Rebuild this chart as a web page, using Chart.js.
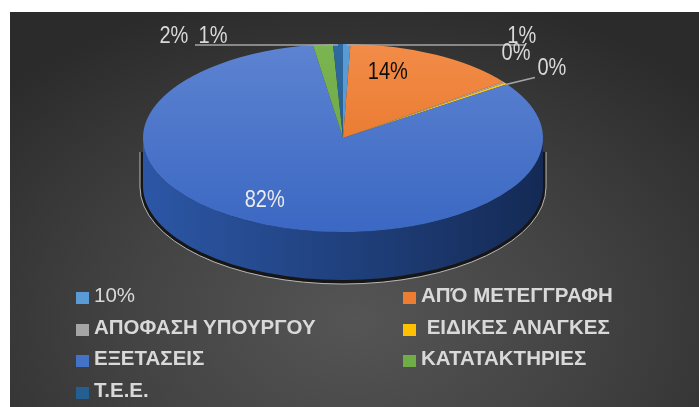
<!DOCTYPE html>
<html>
<head>
<meta charset="utf-8">
<script src="https://cdn.jsdelivr.net/npm/chart.js@4.4.0/dist/chart.umd.min.js"></script>
<style>
    html, body { margin: 0; padding: 0; background: #fff; }
    #wrap { position: relative; width: 699px; height: 407px; overflow: hidden; }
    #panel {
        position: absolute; left: 10px; top: 12px; width: 689px; height: 395px;
        background: radial-gradient(ellipse 70% 85% at 50% 78%, #555555 0%, #444444 45%, #2b2b2b 100%);
    }
    #chart { position: absolute; left: 0; top: 0; }
    #legend {
        position: absolute; left: 76px; top: 286px;
        display: grid; grid-template-columns: 327px auto; grid-auto-rows: 31.7px;
        font-family: "Liberation Sans", Arial, sans-serif; font-weight: bold; font-size: 20.5px;
        color: #d9d9d9; white-space: pre;
    }
    #legend .item { display: flex; align-items: flex-end; height: 21px; }
    #legend .box { width: 13px; height: 12px; margin-right: 5px; margin-bottom: 3px; flex: none; }
</style>
</head>
<body>
<div id="wrap">
    <div id="panel"></div>
    <canvas id="chart" width="699" height="407"></canvas>
    <div id="legend"></div>
</div>
<script>
const categories = ['10%', 'ΑΠΌ ΜΕΤΕΓΓΡΑΦΗ', 'ΑΠΟΦΑΣΗ ΥΠΟΥΡΓΟΥ', ' ΕΙΔΙΚΕΣ ΑΝΑΓΚΕΣ', 'ΕΞΕΤΑΣΕΙΣ', 'ΚΑΤΑΤΑΚΤΗΡΙΕΣ', 'Τ.Ε.Ε.'];
const values = [0.6, 14.2, 0.2, 0.3, 82.3, 1.6, 0.8];
const colors = ['#5B9BD5', '#ED7D31', '#A5A5A5', '#FFC000', '#4472C4', '#70AD47', '#255E91'];
const topLight = ['#6aa6dc', '#f28c48', '#b3b3b3', '#ffc92a', '#5d83d1', '#7ab552', '#2f6aa0'];
const topDark = ['#4f8fcc', '#e46d1e', '#989898', '#f5b700', '#3b68c3', '#65a03e', '#1f5385'];
const sideLeft = ['#3f7ab3', '#b85a1c', '#7f7f7f', '#c79500', '#2c57a6', '#568a36', '#1b4a75'];
const sideRight = ['#1e3c5a', '#5c2d0e', '#404040', '#634a00', '#142a55', '#2b451b', '#0e253b'];
const legendBold = [false, true, true, true, true, true, true];

// label placement: 'in' = inside slice, 'out' = on the rim, then offsets
const labelMode = ['out', 'in', 'out', 'out', 'in', 'out', 'out'];
const labelOffset = [[175, -7], [-11, -15], [12, -29], [46, -15], [-31, 11], [-149, -8], [-125, -7]];
const leaderEnd = [[3, 8], null, null, [-17, 9], null, null, [-18, 8]];
const labelColor = ['#d9d9d9', '#0d0d0d', '#d9d9d9', '#d9d9d9', '#ececec', '#d9d9d9', '#d9d9d9'];

const squash = 0.47;
const topY = 138;
const depth = 48;

function geom(chart) {
    const arc = chart.getDatasetMeta(0).data[0];
    return { cx: arc.x, cy0: arc.y, R: arc.outerRadius, ry: arc.outerRadius * squash };
}

const pie3d = {
    id: 'pie3d',
    beforeDatasetsDraw(chart) {
        const ctx = chart.ctx;
        const g = geom(chart);
        ctx.save();

        // shadow rim under the pie
        ctx.beginPath();
        ctx.moveTo(g.cx - g.R - 3, topY + 14);
        ctx.lineTo(g.cx - g.R - 3, topY + depth);
        ctx.ellipse(g.cx, topY + depth + 1, g.R + 3, g.ry + 3, 0, Math.PI, 0, true);
        ctx.lineTo(g.cx + g.R + 3, topY + 14);
        ctx.fillStyle = '#161616';
        ctx.fill();
        ctx.strokeStyle = 'rgba(220,220,220,0.8)';
        ctx.lineWidth = 1;
        ctx.stroke();

        // side walls, only the front half is visible
        chart.getDatasetMeta(0).data.forEach((el, i) => {
            const s = Math.max(el.startAngle, 0);
            const e = Math.min(el.endAngle, Math.PI);
            if (s >= e) return;
            const grad = ctx.createLinearGradient(g.cx - g.R, 0, g.cx + g.R, 0);
            grad.addColorStop(0, sideLeft[i]);
            grad.addColorStop(1, sideRight[i]);
            ctx.beginPath();
            ctx.ellipse(g.cx, topY, g.R, g.ry, 0, s, e);
            ctx.lineTo(g.cx + g.R * Math.cos(e), topY + g.ry * Math.sin(e) + depth);
            ctx.ellipse(g.cx, topY + depth, g.R, g.ry, 0, e, s, true);
            ctx.closePath();
            ctx.fillStyle = grad;
            ctx.fill();
        });

        // squash the top face
        ctx.translate(0, topY);
        ctx.scale(1, squash);
        ctx.translate(0, -g.cy0);
    },
    afterDatasetsDraw(chart) {
        const ctx = chart.ctx;
        ctx.restore();
        const g = geom(chart);
        const total = values.reduce((a, b) => a + b, 0);

        ctx.save();
        chart.getDatasetMeta(0).data.forEach((el, i) => {
            const mid = (el.startAngle + el.endAngle) / 2;
            const f = labelMode[i] === 'in' ? 0.6 : 1.0;
            const ax = g.cx + f * g.R * Math.cos(mid);
            const ay = topY + f * g.ry * Math.sin(mid);
            const lx = ax + labelOffset[i][0];
            const ly = ay + labelOffset[i][1];

            if (leaderEnd[i]) {
                ctx.beginPath();
                ctx.moveTo(ax, ay + 1);
                ctx.lineTo(lx + leaderEnd[i][0], ly + leaderEnd[i][1]);
                ctx.strokeStyle = '#a6a6a6';
                ctx.lineWidth = 1.5;
                ctx.stroke();
            }

            const text = Math.round(values[i] / total * 100) + '%';
            ctx.save();
            ctx.translate(lx, ly);
            ctx.scale(0.87, 1);
            ctx.font = '23px "Liberation Sans", Arial, sans-serif';
            ctx.textAlign = 'center';
            ctx.textBaseline = 'middle';
            ctx.fillStyle = labelColor[i];
            ctx.fillText(text, 0, 0);
            ctx.restore();
        });
        ctx.restore();
    }
};

function faceColor(context) {
    const chart = context.chart;
    const i = context.dataIndex;
    if (!chart.chartArea) return colors[i];
    const g = geom(chart);
    if (!g.R) return colors[i];
    const grad = chart.ctx.createLinearGradient(0, g.cy0 - g.R, 0, g.cy0 + g.R);
    grad.addColorStop(0, topLight[i]);
    grad.addColorStop(1, topDark[i]);
    return grad;
}

const chart = new Chart(document.getElementById('chart'), {
    type: 'pie',
    data: {
        labels: categories,
        datasets: [{
            data: values,
            backgroundColor: faceColor,
            borderWidth: 0
        }]
    },
    options: {
        responsive: false,
        animation: false,
        events: [],
        layout: { padding: { left: 143, right: 156, top: 3, bottom: 4 } },
        plugins: {
            legend: { display: false },
            tooltip: { enabled: false }
        }
    },
    plugins: [pie3d]
});

const legend = document.getElementById('legend');
chart.data.labels.forEach((label, i) => {
    const item = document.createElement('div');
    item.className = 'item';
    const box = document.createElement('span');
    box.className = 'box';
    box.style.background = colors[i];
    const txt = document.createElement('span');
    txt.textContent = label;
    if (!legendBold[i]) txt.style.fontWeight = 'normal';
    item.appendChild(box);
    item.appendChild(txt);
    legend.appendChild(item);
});
</script>
</body>
</html>
